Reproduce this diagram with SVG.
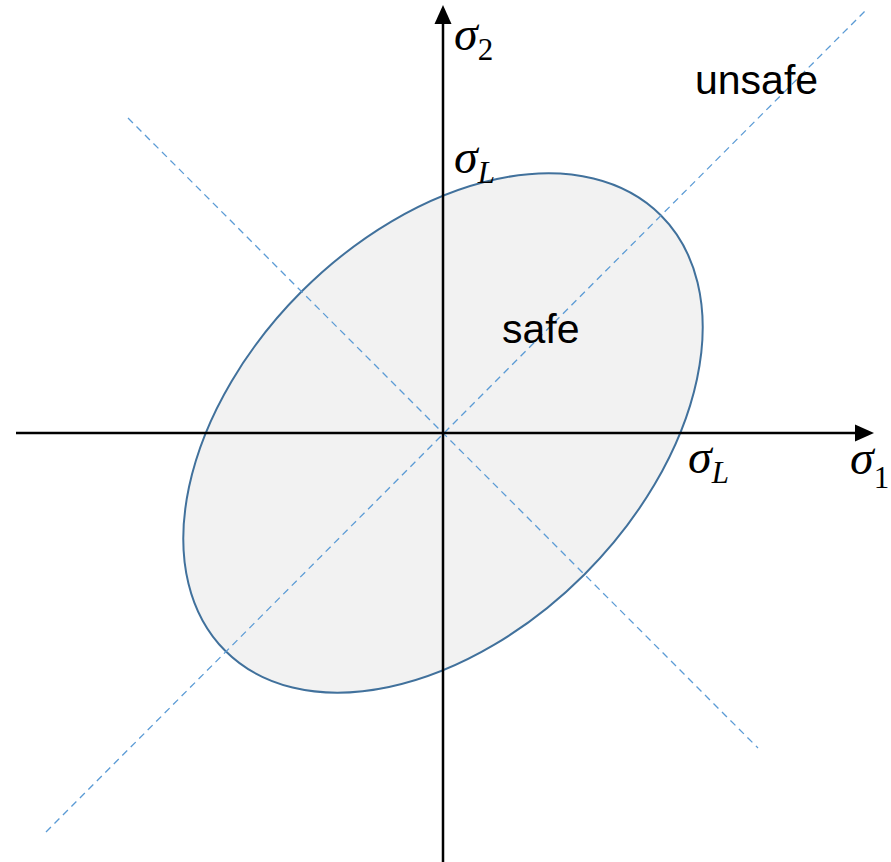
<svg xmlns="http://www.w3.org/2000/svg" width="891" height="862" viewBox="0 0 891 862">
<style>
.axis{stroke:#000;stroke-width:2.5;fill:none}
.dash{stroke:#5B9BD5;stroke-width:1.3;stroke-dasharray:7 5;fill:none}
.sym{font-family:"Liberation Serif",serif;font-style:italic;font-size:48px;fill:#000}
.sub{font-size:31px}
.up{font-style:normal}
.lbl{font-family:"Liberation Sans",Arial,sans-serif;font-size:41px;fill:#000}
</style>
<g id="region">
<ellipse cx="443" cy="433" rx="308" ry="200" transform="rotate(-45 443 433)" fill="#F2F2F2" stroke="#41719C" stroke-width="2"/>
</g>
<g id="guides">
<line class="dash" x1="46" y1="832" x2="868" y2="8"/>
<line class="dash" x1="128" y1="118" x2="758" y2="748"/>
</g>
<g id="axes">
<line class="axis" x1="16" y1="433" x2="856" y2="433"/>
<polygon points="874,433 855,424.5 855,441.5" fill="#000"/>
<line class="axis" x1="443" y1="862" x2="443" y2="22"/>
<polygon points="443,5 434.5,24 451.5,24" fill="#000"/>
</g>
<g id="labels">
<text class="sym" x="454" y="50">σ<tspan class="sub up" y="60">2</tspan></text>
<text class="sym" x="454" y="173">σ<tspan class="sub" y="183">L</tspan></text>
<text class="sym" x="688" y="473">σ<tspan class="sub" y="483">L</tspan></text>
<text class="sym" x="850" y="474">σ<tspan class="sub up" y="488">1</tspan></text>
<text class="lbl" x="695" y="94">unsafe</text>
<text class="lbl" x="502" y="343">safe</text>
</g>
</svg>
